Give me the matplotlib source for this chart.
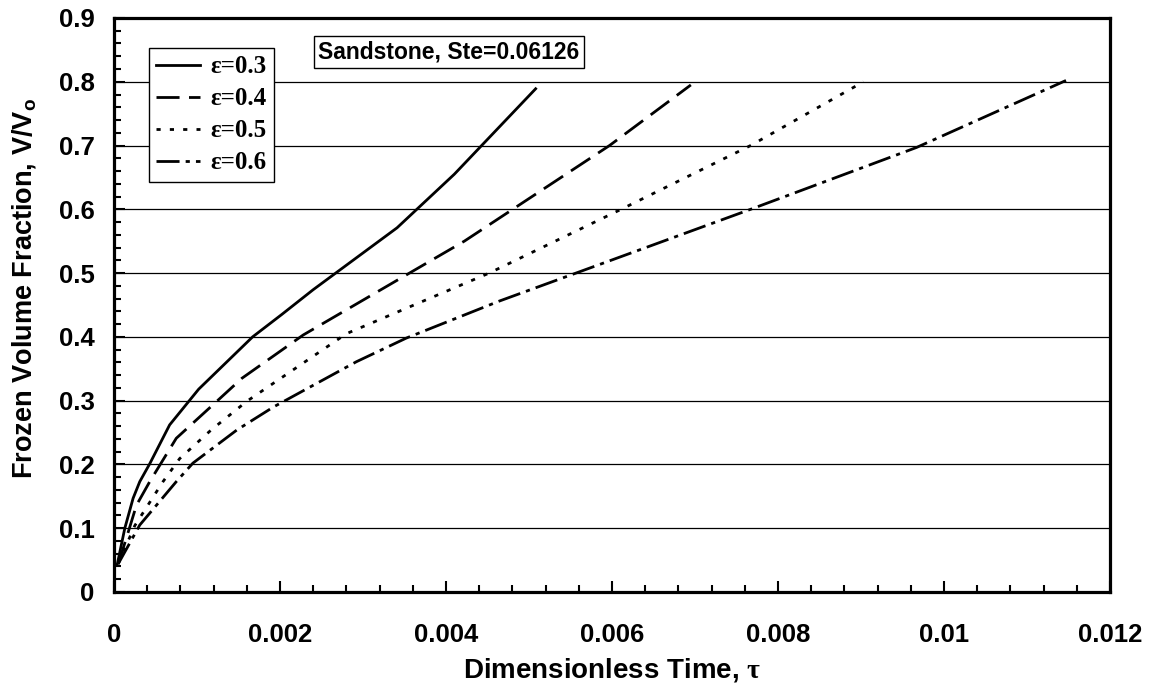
import matplotlib
matplotlib.use("Agg")
import matplotlib.pyplot as plt
from matplotlib.ticker import FixedLocator, FixedFormatter, MultipleLocator

plt.rcParams["font.family"] = "Liberation Sans"
plt.rcParams["mathtext.fontset"] = "custom"
plt.rcParams["mathtext.rm"] = "Liberation Serif:bold"
plt.rcParams["mathtext.bf"] = "Liberation Sans:bold"

# Frozen volume fraction vs dimensionless time for each porosity
tau_03 = [0.00004, 0.00013, 0.00023, 0.00031, 0.00043, 0.00067, 0.00102,
          0.00167, 0.00202, 0.00240, 0.00341, 0.00410, 0.00508]
vf_03 = [0.044, 0.100, 0.147, 0.173, 0.201, 0.262, 0.318,
         0.400, 0.435, 0.474, 0.571, 0.655, 0.789]

tau_04 = [0.00005, 0.00015, 0.00027, 0.00043, 0.00075, 0.00123, 0.00154,
          0.00228, 0.00352, 0.00422, 0.00597, 0.00695]
vf_04 = [0.044, 0.085, 0.136, 0.173, 0.241, 0.298, 0.335,
         0.403, 0.497, 0.550, 0.700, 0.795]

tau_05 = [0.00005, 0.00025, 0.00059, 0.00079, 0.00117, 0.00160, 0.00280,
          0.00452, 0.00611, 0.00767, 0.00903]
vf_05 = [0.044, 0.104, 0.173, 0.209, 0.254, 0.299, 0.405,
         0.500, 0.600, 0.700, 0.800]

tau_06 = [0.00005, 0.00031, 0.00075, 0.00095, 0.00148, 0.00192, 0.00292,
          0.00352, 0.00464, 0.00767, 0.00967, 0.01147]
vf_06 = [0.044, 0.105, 0.173, 0.202, 0.254, 0.290, 0.361,
         0.398, 0.456, 0.600, 0.697, 0.802]

series_labels = ["ε=0.3", "ε=0.4", "ε=0.5", "ε=0.6"]

x_ticks = [0, 0.002, 0.004, 0.006, 0.008, 0.010, 0.012]
x_tick_labels = ["0", "0.002", "0.004", "0.006", "0.008", "0.01", "0.012"]
y_ticks = [0, 0.1, 0.2, 0.3, 0.4, 0.5, 0.6, 0.7, 0.8, 0.9]
y_tick_labels = ["0", "0.1", "0.2", "0.3", "0.4", "0.5", "0.6", "0.7", "0.8", "0.9"]

fig = plt.figure(figsize=(11.53, 6.91), dpi=100)
ax = fig.add_axes([0.0989, 0.1433, 0.8638, 0.8307])

line_styles = ["-", (0, (8.3, 3.4)), (0, (1.5, 3.3)), (0, (8.3, 2.2, 1.5, 2.2))]
for t, v, lab, ls in zip([tau_03, tau_04, tau_05, tau_06],
                         [vf_03, vf_04, vf_05, vf_06],
                         series_labels, line_styles):
    ax.plot(t, v, color="black", lw=2.0, linestyle=ls, label=lab, zorder=3)

ax.set_xlim(0, 0.012)
ax.set_ylim(0, 0.9)

ax.xaxis.set_major_locator(FixedLocator(x_ticks))
ax.xaxis.set_major_formatter(FixedFormatter(x_tick_labels))
ax.xaxis.set_minor_locator(MultipleLocator(0.0004))
ax.yaxis.set_major_locator(FixedLocator(y_ticks))
ax.yaxis.set_major_formatter(FixedFormatter(y_tick_labels))
ax.yaxis.set_minor_locator(MultipleLocator(0.02))

ax.grid(axis="y", which="major", color="black", lw=0.9)
ax.set_axisbelow(True)

ax.tick_params(which="both", direction="in", top=False, right=False,
               width=1.5, color="black")
ax.tick_params(which="major", length=8)
ax.tick_params(which="minor", length=5)
ax.tick_params(axis="x", which="major", pad=22)
ax.tick_params(axis="y", which="major", pad=14)
for lbl in ax.get_xticklabels() + ax.get_yticklabels():
    lbl.set_fontsize(18.5)
    lbl.set_fontweight("bold")

for sp in ax.spines.values():
    sp.set_linewidth(2.3)
    sp.set_color("black")

ax.set_xlabel(r"Dimensionless Time, $\mathrm{\tau}$", fontsize=20,
              fontweight="bold", labelpad=7)
ax.set_ylabel(r"Frozen Volume Fraction, V/V$_\mathbf{o}$", fontsize=19.5,
              fontweight="bold")
ax.yaxis.set_label_coords(-0.076, 0.528)

leg = ax.legend(loc="upper left", bbox_to_anchor=(0.0351, 0.9477),
                borderaxespad=0, frameon=True, fancybox=False,
                prop={"family": "Liberation Serif", "weight": "bold", "size": 18},
                handlelength=1.75, handletextpad=0.4, labelspacing=0.36,
                borderpad=0.3)
leg.get_frame().set_edgecolor("black")
leg.get_frame().set_linewidth(1.0)
leg.get_frame().set_alpha(1)
leg.set_zorder(5)

ax.text(0.3363, 0.94, "Sandstone, Ste=0.06126", transform=ax.transAxes,
        ha="center", va="center", fontsize=16.5, fontweight="bold", zorder=6,
        bbox=dict(boxstyle="square,pad=0.2", fc="white", ec="black", lw=1.0))

fig.savefig("out.png", dpi=100)
